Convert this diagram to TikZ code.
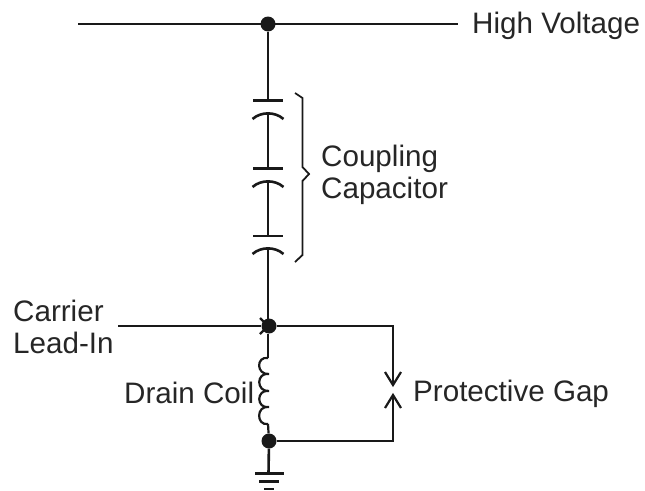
\documentclass[tikz,border=0pt]{standalone}
\usepackage{fontspec}
\setmainfont{Liberation Sans}
\tikzset{
  wire/.style={line width=2.6pt,color=black!90},
  thin wire/.style={line width=2.2pt,color=black!90},
  dot/.style={circle,fill=black!90,inner sep=0pt,minimum size=15pt},
  lbl/.style={inner sep=0pt,font=\fontsize{29.6pt}{32pt}\selectfont,text=black!85},
  plate/.style={wire,line cap=butt}
}
\begin{document}
\begin{tikzpicture}[x=1pt,y=-1pt]
\useasboundingbox (0,0) rectangle (645,490);
\node[dot] (top) at (268,24) {};
\node[dot] (mid) at (269,326) {};
\node[dot] (bot) at (269,441) {};
\coordinate (busL) at (78,24);
\coordinate (busR) at (458,24);
\coordinate (c1a) at (268,100.5);
\coordinate (c1b) at (268,113);
\coordinate (c2a) at (268,168.4);
\coordinate (c2b) at (268,181);
\coordinate (c3a) at (268,235.8);
\coordinate (c3b) at (268,248);
\coordinate (inL) at (118,326);
\coordinate (gr) at (393,326);
\coordinate (gu) at (393,385);
\coordinate (gbr) at (393,441);
\coordinate (gl) at (393,395);
\coordinate (coilT) at (268,358);
\coordinate (coilB) at (268,424);
\coordinate (g1) at (268.5,473.5);
% bus and stack
\draw[wire] (busL) -- (busR);
\draw[wire] (top) -- (c1a);
\draw[wire] (c1b) -- (c2a);
\draw[wire] (c2b) -- (c3a);
\draw[wire] (c3b) -- (c3b |- mid);
\foreach \p in {c1a,c2a,c3a}{
  \draw[plate] ([xshift=-15pt]\p) -- ([xshift=15pt]\p);
}
\foreach \p in {c1b,c2b,c3b}{
  \draw[plate] ([shift={(-15.5,6)}]\p) .. controls ([shift={(-7,-1.5)}]\p) and ([shift={(7,-1.5)}]\p) .. ([shift={(15.5,6)}]\p);
}
% brace
\draw[thin wire,line width=1.8pt] (295,93) -- (302.5,98) -- (302.5,167) -- (309,174) -- (302.5,181) -- (302.5,255) -- (295,262);
% carrier lead-in with chevron
\draw[thin wire] (inL) -- (mid);
\draw[thin wire] (260,318) -- (268,326) -- (260,334);
% gap
\draw[thin wire] (mid) -- (gr) -- (gu);
\draw[thin wire] (bot) -- (gbr) -- (gl);
\draw[thin wire] (385,372) -- (gu) -- (401,372);
\draw[thin wire] (385,408) -- (gl) -- (401,408);
% coil
\draw[thin wire] (268,334) -- (coilT);
\draw[thin wire] (bot) -- (coilB);
\draw[thin wire] (coilT)
  .. controls (256,356) and (256,375) .. (269,374)
  .. controls (256,372) and (256,392) .. (269,391)
  .. controls (256,389) and (256,409) .. (269,407)
  .. controls (256,405) and (256,426) .. (coilB);
% ground
\draw[wire] (bot) -- (g1);
\draw[wire] (255,473.5) -- (284,473.5);
\draw[thin wire] (259,481.5) -- (279,481.5);
\draw[thin wire] (264,489) -- (274,489);
% labels
\node[lbl,anchor=base west] (hv) at (472,33) {High Voltage};
\node[lbl,anchor=west,align=left] (cc) at (321,175) {Coupling\\Capacitor};
\node[lbl,anchor=west,align=left] (cl) at (13,327) {Carrier\\Lead-In};
\node[lbl,anchor=base west] (dc) at (124,403) {Drain Coil};
\node[lbl,anchor=base west] (pg) at (413,401) {Protective Gap};
\end{tikzpicture}
\end{document}
